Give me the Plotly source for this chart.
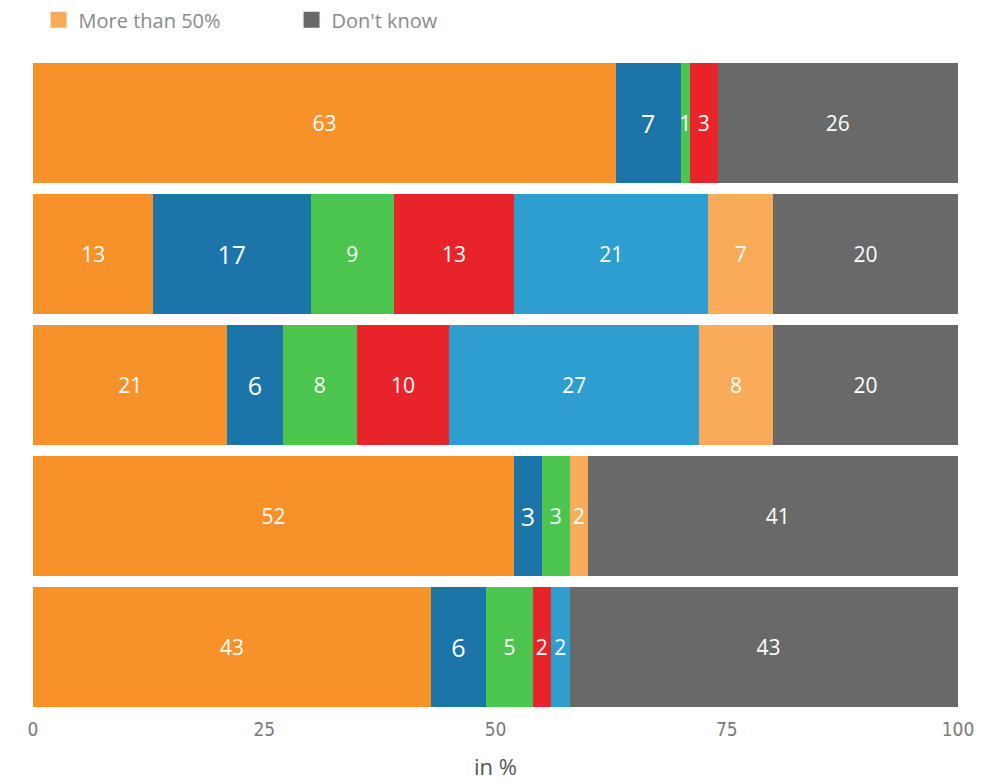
import plotly.graph_objects as go

rows = ['Row 1', 'Row 2', 'Row 3', 'Row 4', 'Row 5']

series_names = ['None', 'Up to 10%', '11-20%', '21-30%', '31-50%', 'More than 50%', "Don't know"]
series_colors = ['#F7922A', '#1C75A8', '#4CC54E', '#E8232A', '#2E9ED1', '#F9AB5A', '#686968']
series_values = [
    [63, 13, 21, 52, 43],
    [7, 17, 6, 3, 6],
    [1, 9, 8, 3, 5],
    [3, 13, 10, 0, 2],
    [0, 21, 27, 0, 2],
    [0, 7, 8, 2, 0],
    [26, 20, 20, 41, 43],
]
legend_series = ['More than 50%', "Don't know"]

tick_vals = [0, 25, 50, 75, 100]

fig = go.Figure()

for name, color, vals in zip(series_names, series_colors, series_values):
    labels = [str(v) if v > 0 else '' for v in vals]
    size = 25 if name == 'Up to 10%' else 21
    fig.add_trace(go.Bar(
        y=rows, x=vals, name=name, orientation='h',
        marker=dict(color=color, line=dict(width=0)),
        text=labels, textposition='inside', insidetextanchor='middle',
        textangle=0, constraintext='none',
        textfont=dict(color='white', size=size, family='Open Sans'),
        showlegend=False, hoverinfo='x+name',
    ))

# legend squares (bigger than the default bar icons)
for name, color in zip(series_names, series_colors):
    if name in legend_series:
        fig.add_trace(go.Scatter(
            x=[None], y=[None], mode='markers', name=name,
            marker=dict(symbol='square', size=18, color=color),
            showlegend=True,
        ))

# page body adds an 8px offset, so margins are set 8px smaller on top/left
fig.update_layout(
    barmode='stack',
    bargap=0.084,
    width=992, height=781,
    margin=dict(l=25, r=42, t=49, b=76),
    paper_bgcolor='white', plot_bgcolor='white',
    font=dict(family='Open Sans', color='#777777'),
    legend=dict(
        orientation='h', x=0.006, xanchor='left', traceorder='normal',
        yref='container', y=0.985, yanchor='middle',
        font=dict(size=20, color='#8a8a8a', family='Open Sans'),
        entrywidth=208, itemsizing='trace',
    ),
    xaxis=dict(
        range=[0, 100], tickvals=tick_vals, showgrid=False, zeroline=False,
        showline=False, ticks='', ticklabelstandoff=3,
        tickfont=dict(size=19, color='#7a7a7a', family='DejaVu Sans Condensed'),
        title=dict(text='in %', font=dict(size=22, color='#555555', family='Open Sans'),
                   standoff=20),
    ),
    yaxis=dict(autorange='reversed', showticklabels=False, showgrid=False,
               zeroline=False, showline=False, ticks=''),
)

fig.write_html('out.html')
